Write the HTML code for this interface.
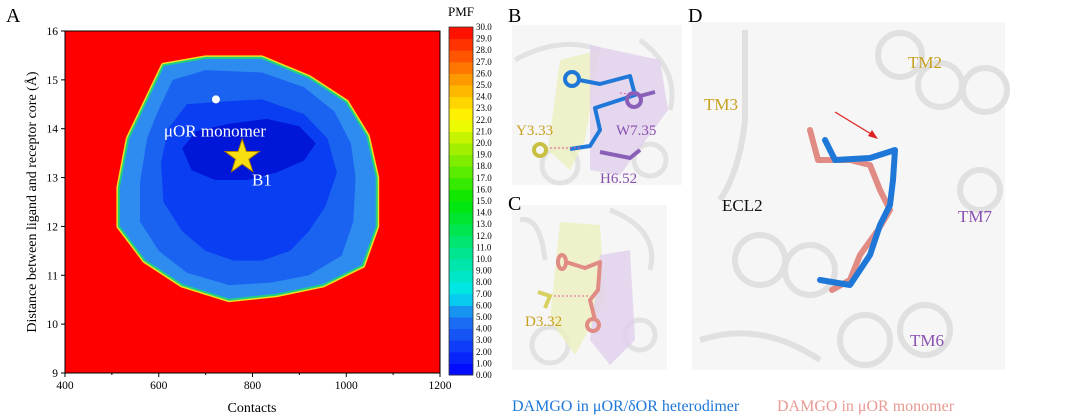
<!DOCTYPE html>
<html><head><meta charset="utf-8"><style>
body{margin:0;background:#fff;width:1080px;height:416px;overflow:hidden;font-family:"Liberation Serif",serif}
svg{position:absolute;left:0;top:0}
</style></head><body>
<svg id="fig" width="1080" height="416" viewBox="0 0 1080 416" xmlns="http://www.w3.org/2000/svg" font-family="Liberation Serif, serif">
<!-- Panel A -->
<text x="6" y="22" font-size="20">A</text>
<g id="plotA"></g>
<g id="cbar"></g>
<text x="461" y="16" font-size="13" text-anchor="middle">PMF</text>
<text x="252" y="412" font-size="14" text-anchor="middle">Contacts</text>
<text transform="translate(36,202) rotate(-90)" font-size="14" text-anchor="middle">Distance between ligand and receptor core (Å)</text>

<!-- Panel B -->
<text x="508" y="22" font-size="20">B</text>
<g>
<rect x="512" y="25" width="170" height="160" fill="#f6f6f6"/>
<g fill="none" stroke="#e2e2e2" stroke-width="5">
<circle cx="560" cy="165" r="18"/><circle cx="650" cy="160" r="16"/><path d="M515 60 Q560 35 600 50"/><path d="M640 40 Q680 70 670 110"/>
</g>
<path d="M560 60 L600 50 L585 140 L570 170 L548 150 Z" fill="#eef0c0" opacity=".8"/>
<path d="M590 45 L660 60 L668 110 L620 175 L590 170 Z" fill="#e0d0ec" opacity=".8"/>
<g fill="none" stroke="#1f78d8" stroke-width="4" stroke-linejoin="round">
<circle cx="572" cy="79" r="7"/><path d="M579 80 L600 84 L630 76 L635 95 L595 108 L600 130 L590 146 L570 149"/>
</g>
<path d="M580 148 L545 148 M620 93 L635 95" stroke="#e0609a" stroke-width="1" stroke-dasharray="2,2"/>
<g fill="none" stroke="#8a5fb8" stroke-width="4"><circle cx="634" cy="100" r="7"/><path d="M640 96 L655 92 M600 152 L630 158 L640 150"/></g>
<g fill="none" stroke="#c8c040" stroke-width="4"><circle cx="540" cy="150" r="6"/></g>
<text x="516" y="135" font-size="15" fill="#c8a020">Y3.33</text>
<text x="616" y="135" font-size="15" fill="#8a50b0">W7.35</text>
<text x="600" y="183" font-size="15" fill="#8a50b0">H6.52</text>
</g>

<!-- Panel C -->
<g>
<rect x="512" y="205" width="155" height="165" fill="#f6f6f6"/>
<g fill="none" stroke="#e2e2e2" stroke-width="5"><circle cx="640" cy="335" r="15"/><circle cx="550" cy="345" r="18"/><path d="M520 220 Q540 215 545 260"/><path d="M610 210 Q660 230 650 270"/></g>
<path d="M560 222 L600 225 L605 300 L575 355 L550 320 Z" fill="#eef0c0" opacity=".8"/>
<path d="M600 255 L630 250 L635 340 L610 365 L590 340 Z" fill="#e0d0ec" opacity=".8"/>
<g fill="none" stroke="#e08c84" stroke-width="4" stroke-linejoin="round"><ellipse cx="562" cy="262" rx="4" ry="7"/><path d="M566 262 L585 268 L600 262 L598 290 L590 300 L595 320"/><circle cx="593" cy="325" r="6"/></g>
<path d="M550 296 L590 296" stroke="#e0609a" stroke-width="1" stroke-dasharray="2,2"/>
<path d="M538 292 L550 296 L545 308" fill="none" stroke="#d8d060" stroke-width="4"/>
<text x="525" y="326" font-size="15" fill="#c8a020">D3.32</text>
</g>
<text x="508" y="210" font-size="20">C</text>

<!-- Panel D -->
<text x="688" y="22" font-size="20">D</text>
<g>
<rect x="692" y="22" width="313" height="348" fill="#f6f6f6"/>
<g fill="none" stroke="#e0e0e0" stroke-width="6">
<circle cx="900" cy="55" r="22"/><circle cx="940" cy="85" r="22"/><circle cx="985" cy="90" r="22"/>
<circle cx="760" cy="260" r="25"/><circle cx="810" cy="270" r="25"/><circle cx="980" cy="190" r="20"/>
<circle cx="925" cy="330" r="25"/><circle cx="865" cy="340" r="25"/><path d="M700 340 Q760 320 820 360"/><path d="M745 30 L745 120 Q740 170 720 200"/>
</g>
<g fill="none" stroke-width="6" stroke-linejoin="round" stroke-linecap="round">
<path d="M810 130 L818 160 L850 160 L870 165 L880 190 L890 210 L878 230 L860 255 L850 280 L832 290" stroke="#e08c84"/>
<path d="M825 140 L835 160 L870 158 L895 150 L893 180 L890 205 L880 225 L870 255 L850 285 L820 280" stroke="#1f78d8"/>
</g>
<path d="M835 112 L876 137" stroke="#e02020" stroke-width="1.2"/><path d="M878 139 L868 136 L872 130 Z" fill="#e02020"/>
<text x="908" y="68" font-size="17" fill="#c8a020">TM2</text>
<text x="704" y="110" font-size="17" fill="#c8a020">TM3</text>
<text x="722" y="211" font-size="17" fill="#111">ECL2</text>
<text x="958" y="222" font-size="17" fill="#8a50b0">TM7</text>
<text x="910" y="346" font-size="17" fill="#8a50b0">TM6</text>
</g>

<text x="512" y="411" font-size="16" fill="#1f78d8">DAMGO in μOR/δOR heterodimer</text>
<text x="777" y="411" font-size="16" fill="#e89a94">DAMGO in μOR monomer</text>
</svg>
<script>
// Axis data
const xTicks=[400,600,800,1000,1200];
const yTicks=[9,10,11,12,13,14,15,16];
const cbarLabels=["0.00","1.00","2.00","3.00","4.00","5.00","6.00","7.00","8.00","9.00","10.0","11.0","12.0","13.0","14.0","15.0","16.0","17.0","18.0","19.0","20.0","21.0","22.0","23.0","24.0","25.0","26.0","27.0","28.0","29.0","30.0"];
// Contour rings (contacts, distance)
const ringOuterX=[610,700,820,920,1000,1045,1065,1065,1035,950,850,750,650,570,515,515,535,570];
const ringOuterY=[15.3,15.45,15.45,15.05,14.55,13.85,13.0,12.0,11.2,10.8,10.6,10.5,10.8,11.3,12.0,12.8,13.8,14.5];
const ringMidX=[630,700,820,910,975,1010,1020,1015,990,920,840,750,660,600,560,560,575,600];
const ringMidY=[15.0,15.2,15.15,14.85,14.35,13.7,13.0,12.1,11.4,11.0,10.85,10.8,11.05,11.5,12.1,12.9,13.8,14.4];
const ringDarkX=[660,730,820,910,960,980,955,920,880,820,760,700,650,610,605,620];
const ringDarkY=[14.5,14.55,14.6,14.3,13.8,13.1,12.4,11.9,11.5,11.3,11.3,11.5,11.9,12.5,13.3,14.0];
const ringDeepX=[680,750,830,900,935,910,850,790,720,670,650];
const ringDeepY=[13.95,14.1,14.2,14.05,13.7,13.35,13.1,12.95,12.95,13.15,13.6];
const monomerPt=[722,14.6];
const starPt=[778,13.42];

const NS="http://www.w3.org/2000/svg";
const L=65,R=440,T=31,B=373;
const sx=v=>L+(v-400)/800*(R-L);
const sy=v=>B-(v-9)/7*(B-T);
function mk(tag,attrs,parent){const e=document.createElementNS(NS,tag);for(const k in attrs)e.setAttribute(k,attrs[k]);parent.appendChild(e);return e;}
const g=document.getElementById('plotA');
const bg=mk('rect',{x:L,y:T,width:R-L,height:B-T,fill:'#ff0000',stroke:'#000','stroke-width':1},g);


function ring(xs,ys,fill,stroke,sw,name){
 const pts=xs.map((x,i)=>sx(x).toFixed(1)+','+sy(ys[i]).toFixed(1)).join(' ');
 const p=mk('polygon',{points:pts,fill:fill,stroke:stroke,'stroke-width':sw,'stroke-linejoin':'round'},g);
 
 
}
ring(ringOuterX,ringOuterY,'#2e8cf0','#f0e020',5,'contour-outer');
ring(ringOuterX,ringOuterY,'#2e8cf0','#20d080',2,'contour-outer-fringe');
ring(ringMidX,ringMidY,'#1a62f0','none',0,'contour-mid');
ring(ringDarkX,ringDarkY,'#0a3ef2','none',0,'contour-dark');
ring(ringDeepX,ringDeepY,'#0016d8','none',0,'contour-deepest');
const dot=mk('circle',{cx:sx(monomerPt[0]),cy:sy(monomerPt[1]),r:4,fill:'#fff'},g);


const cx=sx(starPt[0]),cy=sy(starPt[1]);let sp=[];
for(let i=0;i<10;i++){const r=i%2?7:18;const a=-Math.PI/2+i*Math.PI/5;sp.push((cx+r*Math.cos(a)).toFixed(1)+','+(cy+r*Math.sin(a)).toFixed(1));}
const star=mk('polygon',{points:sp.join(' '),fill:'#f8e010',stroke:'#b08000','stroke-width':1},g);


const t1=mk('text',{x:sx(722)-1,y:sy(14.0)+8,'font-size':17,fill:'#fff','text-anchor':'middle'},g);t1.textContent='μOR monomer';


const t2=mk('text',{x:sx(820),y:sy(13.0)+8,'font-size':17,fill:'#fff','text-anchor':'middle'},g);t2.textContent='B1';


xTicks.forEach((v,i)=>{
 mk('line',{x1:sx(v),x2:sx(v),y1:B,y2:B+4,stroke:'#000'},g);
 if(i<xTicks.length-1)mk('line',{x1:sx(v+100),x2:sx(v+100),y1:B,y2:B+2,stroke:'#000'},g);
 const t=mk('text',{x:sx(v),y:B+16,'font-size':11.5,'text-anchor':'middle'},g);t.textContent=v;
 
 
});
yTicks.forEach(v=>{
 mk('line',{x1:L-4,x2:L,y1:sy(v),y2:sy(v),stroke:'#000'},g);
 const t=mk('text',{x:L-7,y:sy(v)+4,'font-size':11.5,'text-anchor':'end'},g);t.textContent=v;
 
 
});
const cb=document.getElementById('cbar');
const CT=27,CB=375,CL=449,CW=24,n=cbarLabels.length-1;
const stops=[[0,[0,0,255]],[5,[30,120,240]],[7,[0,230,240]],[10,[0,230,160]],[15,[0,230,0]],[20,[180,240,0]],[22,[255,255,0]],[25,[255,170,0]],[30,[255,0,0]]];
function col(v){for(let i=1;i<stops.length;i++){if(v<=stops[i][0]){const a=stops[i-1],b=stops[i],f=(v-a[0])/(b[0]-a[0]);return 'rgb('+a[1].map((c,j)=>Math.round(c+(b[1][j]-c)*f)).join(',')+')';}}return 'red';}
const h=(CB-CT)/n;
for(let i=0;i<n;i++){mk('rect',{x:CL,y:CB-(i+1)*h,width:CW,height:h+0.5,fill:col(i+0.5)},cb);}
mk('rect',{x:CL,y:CT,width:CW,height:CB-CT,fill:'none',stroke:'#333','stroke-width':0.8},cb);
cbarLabels.forEach((s,i)=>{
 const t=mk('text',{x:CL+CW+3,y:CB-i*h+3,'font-size':9},cb);t.textContent=s;
 
 
});
</script>
</body></html>
